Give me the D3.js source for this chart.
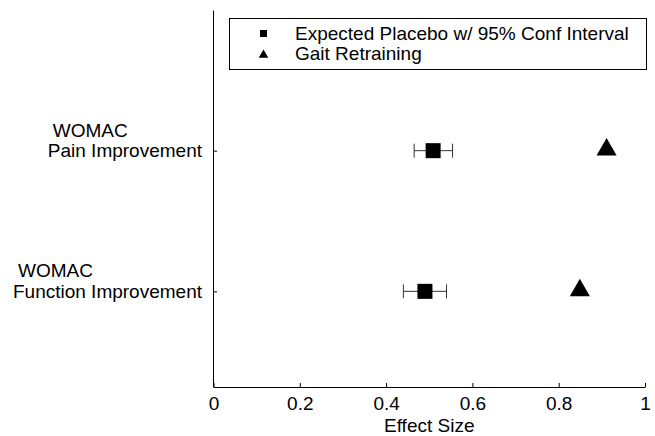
<!DOCTYPE html>
<html>
<head>
<meta charset="utf-8">
<script src="https://cdn.jsdelivr.net/npm/d3@7"></script>
<style>
body { margin: 0; background: #fff; }
text { font-family: "Liberation Sans", Arial, sans-serif; }
</style>
</head>
<body>
<script>
// data
var outcomes = ["Pain Improvement", "Function Improvement"];
var outcomePos = [1, 2];
var placebo = [0.509, 0.490];
var placeboLow = [0.465, 0.440];
var placeboHigh = [0.554, 0.540];
var gait = [0.911, 0.849];
var xTicks = [0, 0.2, 0.4, 0.6, 0.8, 1];
var legendLabels = ["Expected Placebo w/ 95% Conf Interval", "Gait Retraining"];

var W = 655, H = 436;
var FS = 19;
var svg = d3.select("body")
    .append("svg")
    .attr("width", W)
    .attr("height", H);

var x = d3.scaleLinear().domain([0, 1]).range([213.5, 645]);
var y = d3.scaleLinear().domain([0, 2.68]).range([10, 387]);

// x axis
var xAxis = svg.append("g")
    .attr("transform", "translate(0,387)")
    .call(d3.axisBottom(x).tickValues(xTicks).tickSizeInner(-4).tickSizeOuter(0)
        .tickFormat(function (d) { return d === 0 || d === 1 ? d3.format("d")(d) : d3.format(".1f")(d); }));
xAxis.select(".domain").attr("stroke", "#000");
xAxis.selectAll(".tick line").attr("stroke", "#000");
xAxis.selectAll(".tick text")
    .attr("y", 10)
    .attr("dy", "0.71em")
    .attr("font-size", FS)
    .attr("font-family", "Liberation Sans, Arial, sans-serif")
    .attr("fill", "#000");

// y axis
var yAxis = svg.append("g")
    .attr("transform", "translate(213,0)")
    .call(d3.axisLeft(y).tickValues(outcomePos).tickSizeInner(-4).tickSizeOuter(0).tickFormat(""));
yAxis.select(".domain").attr("stroke", "#000");
yAxis.selectAll(".tick line").attr("stroke", "#000");

// multi-line category labels
outcomes.forEach(function (name, i) {
    var g = svg.append("g");
    var t2 = g.append("text")
        .attr("x", 202)
        .attr("y", y(outcomePos[i]) + 6.5)
        .attr("text-anchor", "end")
        .attr("font-size", FS)
        .text(name);
    var w = t2.node().getComputedTextLength();
    g.append("text")
        .attr("x", 202 - w + 5)
        .attr("y", y(outcomePos[i]) - 14)
        .attr("font-size", FS)
        .text("WOMAC");
});

// x label
svg.append("text")
    .attr("x", x(0.5))
    .attr("y", 432)
    .attr("text-anchor", "middle")
    .attr("font-size", FS)
    .text("Effect Size");

// error bars
var eb = svg.append("g");
outcomePos.forEach(function (p, i) {
    var cy = y(p);
    eb.append("line")
        .attr("x1", x(placeboLow[i])).attr("x2", x(placeboHigh[i]))
        .attr("y1", cy).attr("y2", cy)
        .attr("stroke", "#333");
    [placeboLow[i], placeboHigh[i]].forEach(function (v) {
        eb.append("line")
            .attr("x1", x(v)).attr("x2", x(v))
            .attr("y1", cy - 7).attr("y2", cy + 7)
            .attr("stroke", "#333");
    });
});

// placebo squares
svg.selectAll(".sq")
    .data(placebo)
    .enter().append("rect")
    .attr("class", "sq")
    .attr("x", function (d) { return x(d) - 7.5; })
    .attr("y", function (d, i) { return y(outcomePos[i]) - 7.5; })
    .attr("width", 15)
    .attr("height", 15)
    .attr("fill", "#000");

// gait triangles
var tri = d3.symbol().type(d3.symbolTriangle).size(175);
svg.selectAll(".tri")
    .data(gait)
    .enter().append("path")
    .attr("class", "tri")
    .attr("d", tri)
    .attr("transform", function (d, i) { return "translate(" + x(d) + "," + (y(outcomePos[i]) - 1) + ")"; })
    .attr("fill", "#000");

// legend
var lg = svg.append("g");
lg.append("rect")
    .attr("x", 229.5).attr("y", 18.5)
    .attr("width", 417).attr("height", 51)
    .attr("fill", "#fff")
    .attr("stroke", "#000");
lg.append("rect")
    .attr("x", 260).attr("y", 30)
    .attr("width", 7).attr("height", 7)
    .attr("fill", "#000");
lg.append("path")
    .attr("d", d3.symbol().type(d3.symbolTriangle).size(40))
    .attr("transform", "translate(263.5,55)")
    .attr("fill", "#000");
legendLabels.forEach(function (t, i) {
    lg.append("text")
        .attr("x", 295)
        .attr("y", 40 + i * 20)
        .attr("font-size", FS)
        .text(t);
});
</script>
</body>
</html>
